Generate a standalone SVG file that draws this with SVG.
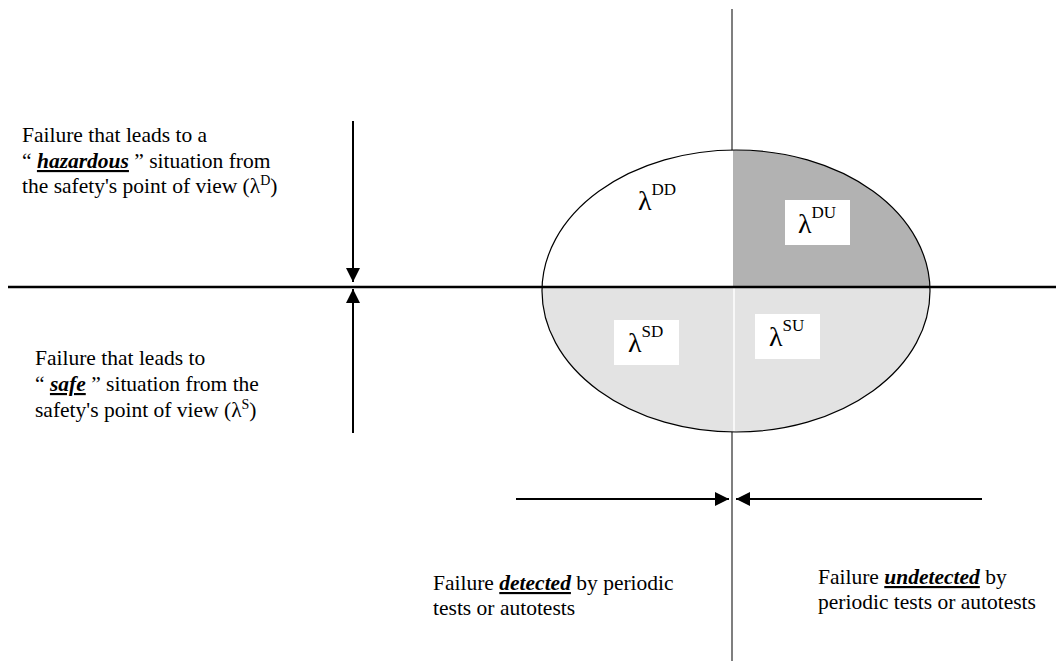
<svg xmlns="http://www.w3.org/2000/svg" width="1056" height="661" viewBox="0 0 1056 661" font-family="'Liberation Serif', 'Times New Roman', Times, serif">
<style>
text{font-family:'Liberation Serif','Times New Roman',Times,serif;font-size:21.5px;fill:#000}
.em{font-weight:bold;font-style:italic;text-decoration:underline}
.lam{font-size:28px}
.sup{font-size:17px}
.arr{stroke:#000;stroke-width:2;fill:none;marker-end:url(#ah)}
</style>
<defs>
<marker id="ah" markerWidth="14" markerHeight="14" viewBox="0 0 14 14" refX="14" refY="7" orient="auto" markerUnits="userSpaceOnUse">
<path d="M0,0 L14,7 L0,14 Z" fill="#000"/>
</marker>
<clipPath id="ec"><ellipse cx="736" cy="291" rx="194" ry="141"/></clipPath>
</defs>
<rect width="1056" height="661" fill="#fff"/>
<g id="axes">
<line x1="732" y1="9" x2="732" y2="661" stroke="#555" stroke-width="1.5"/>
</g>
<g id="ellipse">
<ellipse cx="736" cy="291" rx="194" ry="141" fill="#fff"/>
<g clip-path="url(#ec)">
<rect x="733" y="140" width="210" height="146" fill="#b2b2b2"/>
<rect x="530" y="287" width="420" height="160" fill="#e3e3e3"/>
<line x1="734" y1="287" x2="734" y2="440" stroke="#fff" stroke-width="1.5"/>
</g>
<ellipse cx="736" cy="291" rx="194" ry="141" fill="none" stroke="#000" stroke-width="1.2"/>
</g>
<g id="hline">
<line x1="8" y1="287" x2="1056" y2="287" stroke="#000" stroke-width="2.5"/>
</g>
<g id="DD">
<text x="638" y="210"><tspan class="lam">λ</tspan><tspan class="sup" dy="-15">DD</tspan></text>
</g>
<g id="DU">
<rect x="785" y="200" width="65" height="45" fill="#fff"/>
<text x="798" y="233"><tspan class="lam">λ</tspan><tspan class="sup" dy="-15">DU</tspan></text>
</g>
<g id="SD">
<rect x="614" y="320" width="65" height="45" fill="#fff"/>
<text x="628" y="352"><tspan class="lam">λ</tspan><tspan class="sup" dy="-15">SD</tspan></text>
</g>
<g id="SU">
<rect x="755" y="314" width="65" height="45" fill="#fff"/>
<text x="769" y="346"><tspan class="lam">λ</tspan><tspan class="sup" dy="-15">SU</tspan></text>
</g>
<g id="connectors">
<line class="arr" x1="353" y1="121" x2="353" y2="282"/>
<line class="arr" x1="353" y1="433" x2="353" y2="289"/>
<line class="arr" x1="516" y1="499" x2="729" y2="499"/>
<line class="arr" x1="982" y1="499" x2="736" y2="499"/>
</g>
<g id="label-hazardous">
<text x="22" y="142">Failure that leads to a</text>
<text x="22" y="168">“ <tspan class="em">hazardous</tspan> ” situation from</text>
<text x="22" y="193">the safety's point of view (λ<tspan font-size="14" dy="-8">D</tspan><tspan dy="8">)</tspan></text>
</g>
<g id="label-safe">
<text x="35" y="365">Failure that leads to</text>
<text x="35" y="391">“ <tspan class="em">safe</tspan> ” situation from the</text>
<text x="35" y="417">safety's point of view (λ<tspan font-size="14" dy="-8">S</tspan><tspan dy="8">)</tspan></text>
</g>
<g id="label-detected">
<text x="433" y="590">Failure <tspan class="em">detected</tspan> by periodic</text>
<text x="433" y="615">tests or autotests</text>
</g>
<g id="label-undetected">
<text x="818" y="584">Failure <tspan class="em">undetected</tspan> by</text>
<text x="818" y="609">periodic tests or autotests</text>
</g>
</svg>
